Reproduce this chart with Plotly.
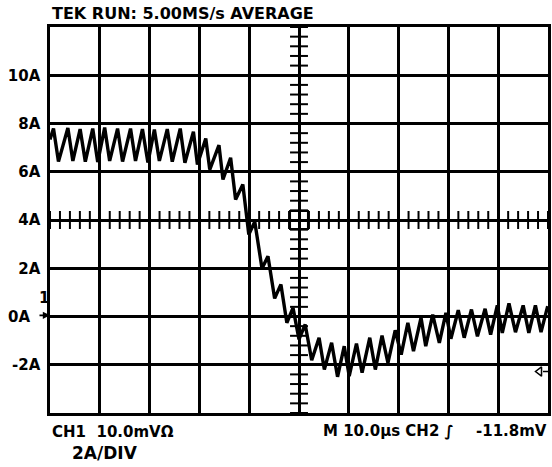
import plotly.graph_objects as go

# Inductor current capture, 10 us/div, 2 A/div
time_us = [0.00, 0.70, 1.70, 3.59, 4.59, 6.05, 7.09, 8.58, 9.58, 10.98, 11.98, 13.57, 14.57,
           16.17, 17.17, 18.56, 19.66, 20.96, 21.96, 23.55, 24.55, 26.15, 27.09, 28.80, 29.60,
           31.28, 32.08, 33.93, 34.73, 36.27, 37.27, 38.72, 39.92, 41.12, 42.57, 43.77, 45.11,
           46.37, 47.56, 48.80, 50.00, 51.24, 52.55, 54.03, 55.09, 56.55, 57.74, 59.08, 60.08,
           61.54, 62.67, 64.21, 65.33, 66.67, 67.86, 69.32, 70.52, 71.86, 72.99, 74.51, 75.45,
           76.85, 78.18, 79.50, 80.50, 81.98, 83.17, 84.63, 85.83, 87.37, 88.48, 89.82, 90.82,
           92.16, 93.47, 95.01, 96.15, 97.47, 98.60, 99.94]
current_a = [7.34, 7.79, 6.42, 7.81, 6.45, 7.77, 6.42, 7.79, 6.40, 7.83, 6.45, 7.79, 6.42,
             7.79, 6.45, 7.77, 6.38, 7.75, 6.45, 7.77, 6.42, 7.79, 6.37, 7.66, 6.30,
             7.38, 6.09, 7.10, 5.68, 6.58, 4.85, 5.47, 3.40, 3.93, 1.99, 2.50, 0.75,
             1.33, -0.26, 0.36, -0.95, -0.33, -1.81, -0.88, -2.20, -1.09, -2.50, -1.23, -2.47,
             -1.12, -2.33, -0.88, -2.20, -0.79, -1.92, -0.57, -1.58, -0.26, -1.44, -0.05, -1.23,
             0.08, -1.09, 0.15, -0.92, 0.26, -0.88, 0.29, -0.82, 0.32, -0.75, 0.46, -0.68,
             0.54, -0.65, 0.46, -0.68, 0.46, -0.65, 0.43]

y_tick_vals = [-2, 0, 2, 4, 6, 8, 10]
y_tick_text = ["-2A", "", "2A", "4A", "6A", "8A", "10A"]
x_grid_vals = [10, 20, 30, 40, 50, 60, 70, 80, 90]
trigger_level_a = -2.28

X_RANGE = [0, 100]
Y_RANGE = [-4, 12]
X_CENTER, Y_CENTER = 50, 4
FONT = "DejaVu Sans"
INK = "black"

fig = go.Figure()

fig.add_trace(go.Scatter(
    x=time_us, y=current_a, mode="lines",
    line=dict(color=INK, width=3.4), hoverinfo="skip", showlegend=False,
))

# trigger level marker at the right edge
fig.add_trace(go.Scatter(
    x=[98.3], y=[trigger_level_a], mode="markers",
    marker=dict(symbol="triangle-left-open", size=8, color=INK, line=dict(width=1.5)),
    cliponaxis=False, showlegend=False, hoverinfo="skip",
))
fig.add_trace(go.Scatter(
    x=[99.0, 100.2], y=[trigger_level_a, trigger_level_a], mode="lines",
    line=dict(color=INK, width=1.5), cliponaxis=False, showlegend=False, hoverinfo="skip",
))

# graticule minor ticks along the centre cross
shapes = []
half_x = 1.8    # us
half_y = 0.373  # A
k = 0
while k <= 80:
    yv = Y_RANGE[0] + k * 0.2
    shapes.append(dict(type="line", xref="x", yref="y", x0=X_CENTER - half_x, x1=X_CENTER + half_x,
                       y0=yv, y1=yv, line=dict(color=INK, width=2), layer="below"))
    k += 2
for k in range(0, 51):
    xv = X_RANGE[0] + k * 2
    shapes.append(dict(type="line", xref="x", yref="y", x0=xv, x1=xv,
                       y0=Y_CENTER - half_y, y1=Y_CENTER + half_y, line=dict(color=INK, width=2), layer="below"))
shapes.append(dict(type="rect", xref="x", yref="y", x0=X_CENTER - half_x, x1=X_CENTER + half_x,
                   y0=Y_CENTER - half_y, y1=Y_CENTER + half_y, line=dict(color=INK, width=2), layer="below"))

txt = dict(family=FONT, size=15, color=INK, weight="bold")
annotations = [
    dict(text="TEK RUN: 5.00MS/s AVERAGE", xref="paper", yref="paper", x=0, y=1.036,
         xanchor="left", yanchor="middle", showarrow=False, font=dict(txt, size=16)),
    dict(text="CH1  10.0mVΩ", xref="paper", yref="paper", x=0, y=-0.049,
         xanchor="left", yanchor="middle", showarrow=False, font=txt),
    dict(text="2A/DIV", xref="paper", yref="paper", x=0.041, y=-0.104,
         xanchor="left", yanchor="middle", showarrow=False, font=dict(txt, size=17)),
    dict(text="M 10.0μs CH2 ∫", xref="paper", yref="paper", x=0.544, y=-0.047,
         xanchor="left", yanchor="middle", showarrow=False, font=txt),
    dict(text="-11.8mV", xref="paper", yref="paper", x=1.002, y=-0.047,
         xanchor="right", yanchor="middle", showarrow=False, font=txt),
    dict(text="0A", xref="paper", yref="y", x=-0.0365, y=0,
         xanchor="right", yanchor="middle", showarrow=False, font=txt),
    dict(text="1", xref="paper", yref="y", x=-0.0126, y=0.75,
         xanchor="center", yanchor="middle", showarrow=False, font=txt),
    # channel 1 ground reference arrow
    dict(text="", xref="paper", yref="y", x=0, y=0.05, ax=-12, ay=0,
         showarrow=True, arrowhead=2, arrowsize=0.8, arrowwidth=1.8, arrowcolor=INK),
]

fig.update_layout(
    width=552, height=467,
    margin=dict(l=50, r=1, t=27, b=54),
    paper_bgcolor="white", plot_bgcolor="white",
    shapes=shapes, annotations=annotations,
    xaxis=dict(range=X_RANGE, tickvals=x_grid_vals, showticklabels=False, ticks="",
               showgrid=True, gridcolor=INK, gridwidth=2.5, zeroline=False,
               showline=True, linecolor=INK, linewidth=2.5, mirror=True, fixedrange=True),
    yaxis=dict(range=Y_RANGE, tickvals=y_tick_vals, ticktext=y_tick_text, ticks="",
               ticklabelstandoff=4, tickfont=txt,
               showgrid=True, gridcolor=INK, gridwidth=2.5, zeroline=False,
               showline=True, linecolor=INK, linewidth=2.5, mirror=True, fixedrange=True),
)

fig.write_html("out.html")
